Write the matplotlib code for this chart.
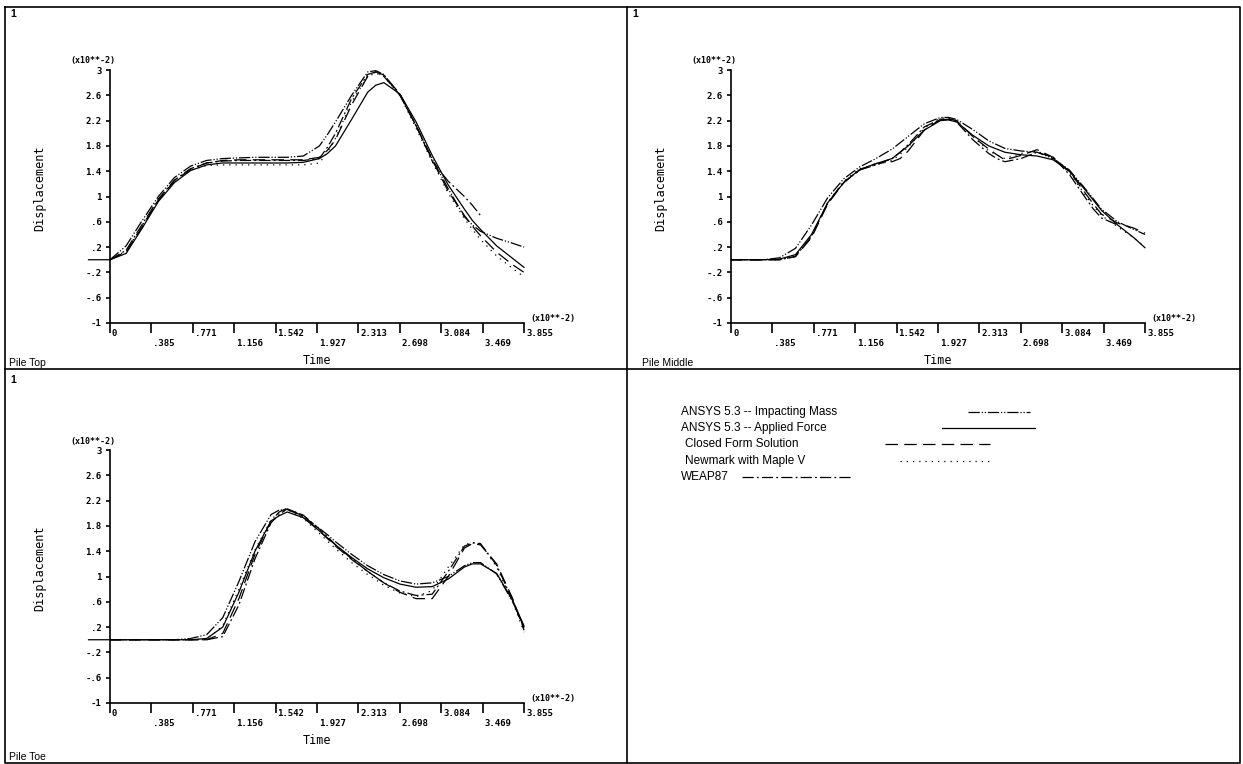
import numpy as np
import matplotlib.pyplot as plt
from matplotlib.lines import Line2D

nan = np.nan

# time (x10**-2), shared by every series; -0.2 only used by the lead-in of the applied force curve
time = [-0.2, 0, 0.15, 0.3, 0.45, 0.6, 0.75, 0.9, 1.05, 1.2, 1.35, 1.5, 1.575, 1.65, 1.8,
        1.95, 2.025, 2.1, 2.25, 2.4, 2.475, 2.55, 2.7, 2.85, 3.0, 3.15, 3.3, 3.375, 3.45,
        3.6, 3.75, 3.855]

# Pile Top
top_impact = [nan, 0, 0.22, 0.62, 1.0, 1.3, 1.48, 1.57, 1.6, 1.61, 1.62, 1.62, 1.62, 1.62, 1.64,
              1.8, 1.98, 2.18, 2.6, 2.97, 2.99, 2.93, 2.6, 2.12, 1.6, 1.12, 0.68, 0.55, 0.45,
              0.34, 0.26, 0.2]
top_force = [0, 0, 0.1, 0.5, 0.92, 1.22, 1.41, 1.5, 1.53, 1.53, 1.53, 1.53, 1.53, 1.53, 1.54,
             1.6, 1.68, 1.8, 2.22, 2.65, 2.76, 2.8, 2.62, 2.18, 1.65, 1.18, 0.8, 0.62, 0.48,
             0.22, 0.02, -0.12]
top_closed = [nan, 0, 0.12, 0.52, 0.94, 1.25, 1.43, 1.53, 1.57, 1.58, 1.58, 1.58, 1.58, 1.58, 1.58,
              1.62, 1.73, 1.9, 2.45, 2.9, 2.97, 2.92, 2.62, 2.12, 1.58, 1.08, 0.7, 0.53, 0.38,
              0.12, -0.08, -0.2]
top_newmark = [nan, 0, 0.14, 0.54, 0.95, 1.25, 1.42, 1.49, 1.5, 1.5, 1.5, 1.5, 1.5, 1.5, 1.5,
               1.53, 1.7, 1.92, 2.5, 2.9, 2.95, 2.9, 2.6, 2.08, 1.55, 1.05, 0.65, 0.48, 0.32,
               0.06, -0.14, -0.27]
top_weap = [nan, 0, 0.15, 0.56, 0.96, 1.26, 1.44, 1.53, 1.56, 1.57, 1.57, 1.57, 1.57, 1.57, 1.57,
            1.6, 1.78, 2.0, 2.55, 2.93, 2.97, 2.9, 2.6, 2.12, 1.56, 1.24, 1.0, 0.86, 0.7,
            nan, nan, nan]

# Pile Middle
mid_impact = [nan, 0, 0, 0, 0.03, 0.18, 0.55, 0.98, 1.28, 1.47, 1.6, 1.75, 1.85, 1.95, 2.15,
              2.25, 2.25, 2.22, 2.06, 1.88, 1.82, 1.76, 1.72, 1.7, 1.6, 1.42, 1.12, 0.96, 0.8,
              0.6, 0.48, 0.4]
mid_force = [nan, 0, 0, 0, 0.01, 0.08, 0.4, 0.9, 1.22, 1.43, 1.52, 1.6, 1.7, 1.8, 2.05,
             2.2, 2.21, 2.18, 1.97, 1.8, 1.75, 1.7, 1.66, 1.64, 1.58, 1.4, 1.1, 0.94, 0.78,
             0.55, 0.35, 0.19]
mid_closed = [nan, 0, 0, 0, 0, 0.05, 0.35, 0.88, 1.22, 1.42, 1.52, 1.55, 1.6, 1.72, 2.05,
              2.22, 2.23, 2.2, 1.95, 1.75, 1.66, 1.58, 1.65, 1.74, 1.62, 1.4, 1.05, 0.88, 0.72,
              0.58, 0.5, 0.42]
mid_newmark = [nan, 0, 0, 0, 0, 0.06, 0.38, 0.9, 1.24, 1.44, 1.5, 1.57, 1.67, 1.78, 2.08,
               2.24, 2.24, 2.2, 1.95, 1.72, 1.66, 1.6, 1.68, 1.72, 1.6, 1.38, 1.02, 0.85, 0.7,
               0.52, 0.35, 0.2]
mid_weap = [nan, 0, 0, 0, 0, 0.05, 0.37, 0.9, 1.23, 1.42, 1.5, 1.6, 1.7, 1.82, 2.1,
            2.22, 2.22, 2.18, 1.9, 1.68, 1.6, 1.55, 1.6, 1.7, 1.62, 1.35, 0.98, 0.8, 0.66,
            0.55, nan, nan]

# Pile Toe
toe_impact = [nan, 0, 0, 0, 0, 0, 0.02, 0.08, 0.35, 0.92, 1.55, 1.98, 2.05, 2.06, 1.95,
              1.76, 1.66, 1.55, 1.35, 1.17, 1.1, 1.03, 0.93, 0.88, 0.9, 1.0, 1.17, 1.22, 1.22,
              1.04, 0.6, 0.2]
toe_force = [0, 0, 0, 0, 0, 0, 0, 0.02, 0.2, 0.75, 1.4, 1.88, 1.96, 2.02, 1.93,
             1.72, 1.61, 1.5, 1.3, 1.12, 1.05, 0.98, 0.88, 0.83, 0.84, 0.96, 1.15, 1.2, 1.2,
             1.05, 0.62, 0.22]
toe_closed = [nan, 0, 0, 0, 0, 0, 0, 0, 0.1, 0.65, 1.35, 1.88, 2.02, 2.08, 1.95,
              1.72, 1.6, 1.48, 1.27, 1.08, 0.99, 0.9, 0.75, 0.65, 0.65, 1.0, 1.45, 1.52, 1.5,
              1.2, 0.65, 0.15]
toe_newmark = [nan, 0, 0, 0, 0, 0, 0, 0.01, 0.22, 0.8, 1.42, 1.9, 2.01, 2.06, 1.92,
               1.68, 1.56, 1.44, 1.22, 1.03, 0.95, 0.86, 0.74, 0.68, 0.78, 1.15, 1.5, 1.54, 1.52,
               1.15, 0.6, 0.12]
toe_weap = [nan, 0, 0, 0, 0, 0, 0, 0, 0.05, 0.55, 1.28, 1.85, 1.98, 2.07, 1.97,
            1.75, 1.63, 1.5, 1.28, 1.08, 0.99, 0.9, 0.77, 0.7, 0.72, 1.08, 1.48, 1.53, 1.52,
            1.18, 0.62, 0.18]

series_names = ['ANSYS 5.3 -- Impacting Mass', 'ANSYS 5.3 -- Applied Force',
                'Closed Form Solution', 'Newmark with Maple V', 'WEAP87']
x_ticks = [0, .385, .771, 1.156, 1.542, 1.927, 2.313, 2.698, 3.084, 3.469, 3.855]
x_tick_labels = ['0', '.385', '.771', '1.156', '1.542', '1.927', '2.313', '2.698', '3.084', '3.469', '3.855']
y_ticks = [-1, -.6, -.2, .2, .6, 1, 1.4, 1.8, 2.2, 2.6, 3]
y_tick_labels = ['-1', '-.6', '-.2', '.2', '.6', '1', '1.4', '1.8', '2.2', '2.6', '3']

styles = [dict(dashes=(9, 1.5, 1, 1.5, 1, 1.5)),
          dict(linestyle='-'),
          dict(dashes=(10, 5)),
          dict(dashes=(1, 4)),
          dict(dashes=(9, 2.5, 1.5, 2.5))]

W, H = 1243, 764
fig = plt.figure(figsize=(W / 100, H / 100), dpi=100)

mono = 'DejaVu Sans Mono'
sans = 'Liberation Sans'


def px_axes(x0, x1, ytop, ybot, tmin):
    # x0: pixel of t=0, x1: pixel of t=3.855
    scale = (x1 - x0) / 3.855
    left = x0 + tmin * scale
    return fig.add_axes([left / W, 1 - ybot / H, (x1 - left) / W, (ybot - ytop) / H])


def panel(ax, data):
    for vals, st in zip(data, styles):
        assert len(vals) == len(time)
        ax.plot(time, vals, color='black', lw=0.9, clip_on=False, **st)
    ax.set_xlim(-0.25, 3.855)
    ax.set_ylim(-1, 3)
    for s in ['top', 'right']:
        ax.spines[s].set_visible(False)
    ax.spines['left'].set_position(('data', 0))
    ax.spines['bottom'].set_bounds(0, 3.855)
    ax.spines['left'].set_linewidth(1.2)
    ax.spines['bottom'].set_linewidth(1.2)
    ax.set_yticks(y_ticks)
    ax.set_yticklabels(y_tick_labels, fontfamily=mono, fontsize=6.5, fontweight='bold')
    ax.tick_params(axis='y', direction='out', length=3, width=1.2, pad=3)
    ax.set_xticks(x_ticks)
    ax.set_xticklabels([])
    ax.tick_params(axis='x', direction='out', length=7, width=1.2)
    for i, (t, lbl) in enumerate(zip(x_ticks, x_tick_labels)):
        dy = -10 if i % 2 == 0 else -20
        ax.annotate(lbl, xy=(t, -1), xytext=(2, dy), textcoords='offset pixels',
                    ha='left', va='center', fontfamily=mono, fontsize=6.5, fontweight='bold')
    ax.annotate('(x10**-2)', xy=(0, 3), xytext=(-40, 9), textcoords='offset pixels',
                ha='left', va='center', fontfamily=mono, fontsize=6, fontweight='bold')
    ax.annotate('(x10**-2)', xy=(3.855, -1), xytext=(6, 5), textcoords='offset pixels',
                ha='left', va='center', fontfamily=mono, fontsize=6, fontweight='bold')
    ax.annotate('Displacement', xy=(0, 1.13), xytext=(-70, 0), textcoords='offset pixels',
                ha='center', va='center', rotation=90, fontfamily=mono, fontsize=8.5)
    ax.annotate('Time', xy=(1.927, -1), xytext=(0, -37), textcoords='offset pixels',
                ha='center', va='center', fontfamily=mono, fontsize=8.5)


ax1 = px_axes(110, 524, 70, 323, -0.25)
panel(ax1, [top_impact, top_force, top_closed, top_newmark, top_weap])
ax2 = px_axes(731, 1145, 70, 323, -0.25)
panel(ax2, [mid_impact, mid_force, mid_closed, mid_newmark, mid_weap])
ax3 = px_axes(110, 524, 450, 703, -0.25)
panel(ax3, [toe_impact, toe_force, toe_closed, toe_newmark, toe_weap])


def fx(x):
    return x / W


def fy(y):
    return 1 - y / H


# page frame and dividers
for xs, ys in [([5, 1240, 1240, 5, 5], [7, 7, 763, 763, 7]),
               ([627, 627], [7, 763]),
               ([5, 1240], [369, 369])]:
    fig.add_artist(Line2D([fx(x) for x in xs], [fy(y) for y in ys], color='black', lw=1.2))

for x, y in [(10, 14), (632, 14), (10, 380)]:
    fig.text(fx(x), fy(y), '1', fontfamily=sans, fontsize=7.5, fontweight='bold', va='center')
for x, y, txt in [(9, 363, 'Pile Top'), (642, 363, 'Pile Middle'), (9, 757, 'Pile Toe')]:
    fig.text(fx(x), fy(y), txt, fontfamily=sans, fontsize=7.5, va='center')

# legend, drawn by hand like the original
leg_rows = [(681, 412, 968, 1030), (681, 428, 942, 1035), (685, 444, 885, 990),
            (685, 461, 900, 992), (681, 477, 742, 853)]
for name, st, (tx, ty, lx0, lx1) in zip(series_names, styles, leg_rows):
    fig.text(fx(tx), fy(ty), name, fontfamily=sans, fontsize=8.5, va='center')
    fig.add_artist(Line2D([fx(lx0), fx(lx1)], [fy(ty), fy(ty)], color='black', lw=0.9, **st))

fig.savefig('out.png', dpi=100)
